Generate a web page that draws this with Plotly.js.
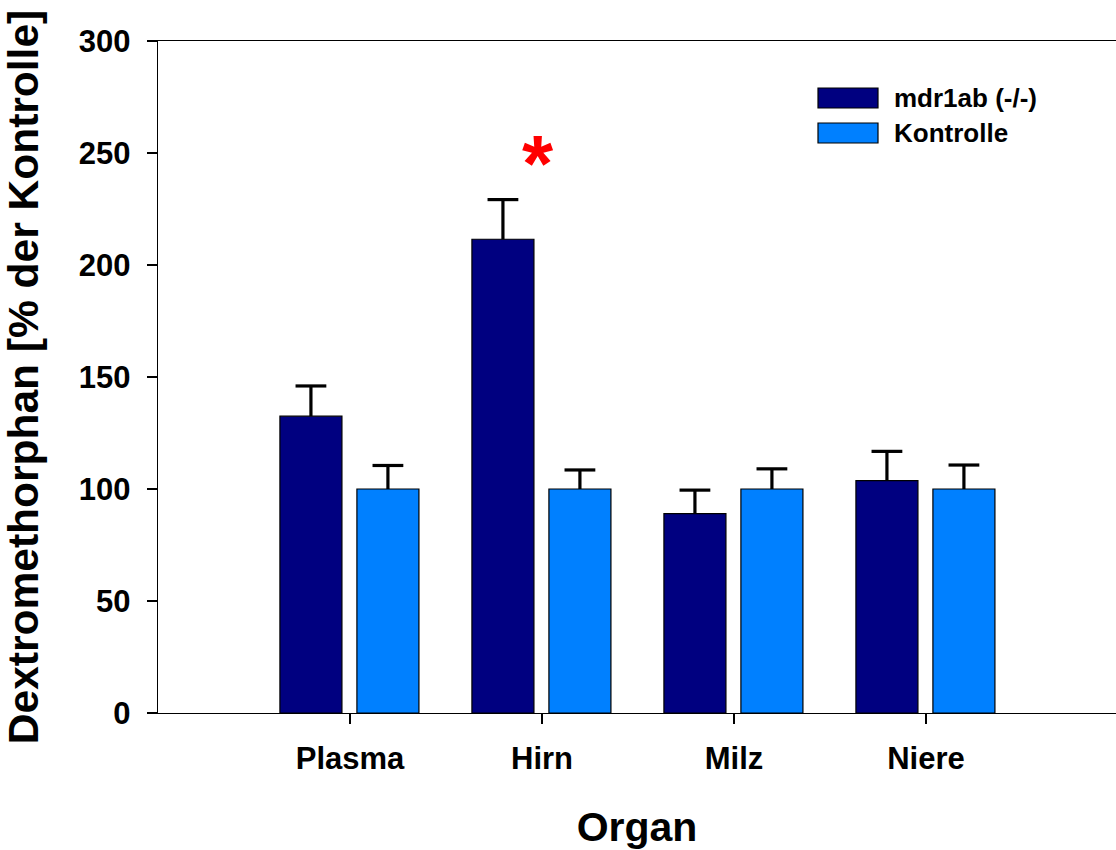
<!DOCTYPE html>
<html>
<head>
<meta charset="utf-8">
<script src="https://cdn.plot.ly/plotly-3.0.1.min.js"></script>
<style>
html, body { margin: 0; padding: 0; background: #ffffff; overflow: hidden; }
#chart { width: 1116px; height: 850px; }
</style>
</head>
<body>
<div id="chart"></div>
<script>
// ---- data ----
var organs = ["Plasma", "Hirn", "Milz", "Niere"];
var seriesNames = ["mdr1ab (-/-)", "Kontrolle"];
var mdrValues = [132.5, 211.5, 89, 103.7];
var mdrErrors = [13.5, 17.7, 10.5, 13.1];
var kontrolleValues = [100, 100, 100, 100];
var kontrolleErrors = [10.5, 8.5, 9, 10.7];
var yTickVals = [0, 50, 100, 150, 200, 250, 300];
var significance = ["", "*", "", ""];

// ---- layout helpers ----
var FONT = "Liberation Sans, Arial, Helvetica, sans-serif";
var W = 1116, H = 850;
var mL = 158, mR = 0, mT = 41, mB = 137;
var plotW = W - mL - mR, plotH = H - mT - mB;
function px2x(px) { return (px - mL) / plotW; }
function px2y(py) { return (H - mB - py) / plotH; }

var COL_DARK = "#000080";
var COL_LIGHT = "#0080ff";
var BAR_W = 0.323;

var idx = organs.map(function (d, i) { return i; });
var zeros = idx.map(function () { return 0; });

function barTrace(name, values, errors, color, offset) {
  return {
    type: "bar",
    name: name,
    x: idx,
    y: values,
    width: BAR_W,
    offset: offset,
    marker: { color: color, line: { color: "#000000", width: 1.2 } },
    // upward error stem only (the cap is drawn by the marker trace below)
    error_y: { type: "data", symmetric: false, array: errors, arrayminus: zeros,
               color: "#000000", thickness: 3.2, width: 0 },
    showlegend: false,
    hoverinfo: "x+y"
  };
}

function capTrace(name, values, errors, offset) {
  return {
    type: "scatter",
    mode: "markers",
    name: name,
    x: idx.map(function (i) { return i + offset + BAR_W / 2; }),
    y: values.map(function (v, i) { return v + errors[i]; }),
    marker: { symbol: "line-ew", size: 22, color: "#000000", line: { color: "#000000", width: 3.2 } },
    showlegend: false,
    hoverinfo: "skip",
    cliponaxis: false
  };
}

var OFF_DARK = -0.365, OFF_LIGHT = 0.036;
var traces = [
  barTrace(seriesNames[0], mdrValues, mdrErrors, COL_DARK, OFF_DARK),
  barTrace(seriesNames[1], kontrolleValues, kontrolleErrors, COL_LIGHT, OFF_LIGHT),
  capTrace(seriesNames[0], mdrValues, mdrErrors, OFF_DARK),
  capTrace(seriesNames[1], kontrolleValues, kontrolleErrors, OFF_LIGHT)
];

// custom legend (large swatches as in the reference)
var shapes = [];
var annotations = [];
var legendColors = [COL_DARK, COL_LIGHT];
var legendTop = [88, 123];
seriesNames.forEach(function (name, i) {
  shapes.push({
    type: "rect", xref: "paper", yref: "paper",
    x0: px2x(818), x1: px2x(878),
    y0: px2y(legendTop[i] + 20), y1: px2y(legendTop[i]),
    fillcolor: legendColors[i], line: { color: "#000000", width: 1.2 }
  });
  annotations.push({
    xref: "paper", yref: "paper",
    x: px2x(892), y: px2y(legendTop[i] + 10),
    xanchor: "left", yanchor: "middle", showarrow: false,
    text: name,
    font: { family: FONT, size: 26, color: "#000000", weight: "bold" }
  });
});

// significance marks
significance.forEach(function (s, i) {
  if (!s) return;
  annotations.push({
    xref: "x", yref: "y",
    x: idx[i], y: 245.5,
    xshift: -4,
    xanchor: "center", yanchor: "middle", showarrow: false,
    text: s,
    font: { family: FONT, size: 80, color: "#ff0000", weight: "bold" }
  });
});

var layout = {
  width: W, height: H,
  margin: { l: mL, r: mR, t: mT, b: mB, pad: 0 },
  paper_bgcolor: "#ffffff",
  plot_bgcolor: "#ffffff",
  barmode: "overlay",
  font: { family: FONT, color: "#000000" },
  xaxis: {
    range: [-1, -1 + plotW / 192],
    tickmode: "array",
    tickvals: idx,
    ticktext: organs,
    ticks: "outside", ticklen: 10, tickwidth: 1.3, tickcolor: "#000000",
    showline: true, linecolor: "#000000", linewidth: 1.3, mirror: true,
    showgrid: false, zeroline: false,
    tickfont: { family: FONT, size: 31, color: "#000000", weight: "bold" },
    ticklabelstandoff: 7,
    automargin: false,
    title: { text: "Organ", font: { family: FONT, size: 41, color: "#000000", weight: "bold" }, standoff: 38 },
    fixedrange: true
  },
  yaxis: {
    range: [0, 300],
    tickmode: "array",
    tickvals: yTickVals,
    ticks: "outside", ticklen: 10, tickwidth: 1.3, tickcolor: "#000000",
    showline: true, linecolor: "#000000", linewidth: 1.3,
    showgrid: false, zeroline: false,
    tickfont: { family: FONT, size: 31, color: "#000000", weight: "bold" },
    ticklabelstandoff: 10,
    automargin: false,
    title: { text: "Dextromethorphan [% der Kontrolle]", font: { family: FONT, size: 42.5, color: "#000000", weight: "bold" }, standoff: 30 },
    fixedrange: true
  },
  shapes: shapes,
  annotations: annotations,
  showlegend: false
};

Plotly.newPlot("chart", traces, layout, { displayModeBar: false, staticPlot: true });
</script>
</body>
</html>
